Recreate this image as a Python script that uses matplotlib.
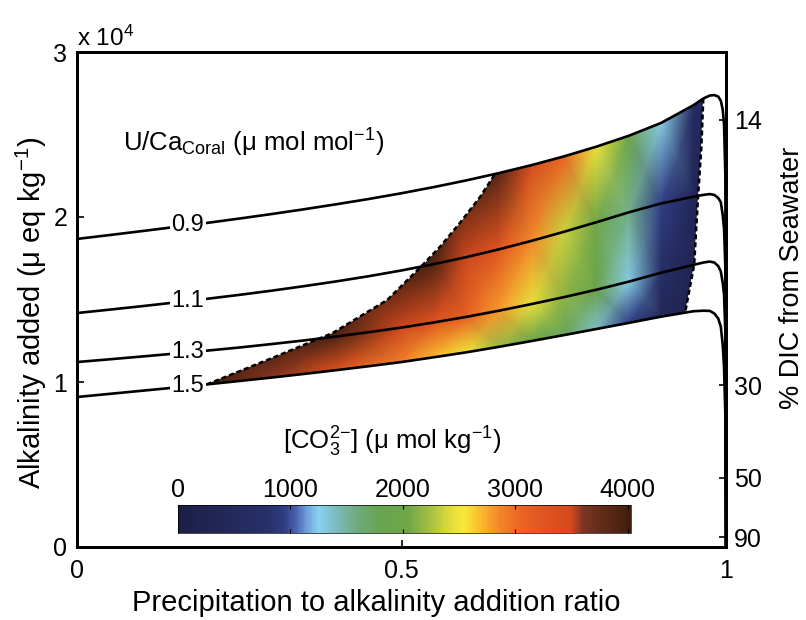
import numpy as np
import matplotlib
matplotlib.use("Agg")
import matplotlib.pyplot as plt
from matplotlib.colors import LinearSegmentedColormap
from matplotlib.patches import PathPatch
from matplotlib.path import Path

plt.rcParams['font.family'] = ['Liberation Sans', 'DejaVu Sans']
plt.rcParams['mathtext.fontset'] = 'custom'
plt.rcParams['mathtext.rm'] = 'Liberation Sans'
plt.rcParams['mathtext.it'] = 'Liberation Sans:italic'
plt.rcParams['mathtext.bf'] = 'Liberation Sans:bold'

# Precipitation to alkalinity addition ratio, sampled along each U/Ca curve
ratio = [0.0, 0.05, 0.1, 0.15, 0.2, 0.25, 0.3, 0.35, 0.4, 0.45, 0.5, 0.55, 0.6,
         0.65, 0.7, 0.75, 0.8, 0.85, 0.9, 0.95,
         0.965, 0.975, 0.982, 0.988, 0.992, 0.995, 0.997, 0.999, 1.0]

# Alkalinity added (ueq/kg) for each coral U/Ca value
alk_09 = [18670, 18905, 19145, 19390, 19640, 19905, 20180, 20470, 20775, 21095,
          21440, 21815, 22220, 22660, 23140, 23670, 24260, 24920, 25700, 26780,
          27180, 27360, 27390, 27300, 27050, 26500, 25600, 22500, 0]
alk_11 = [14180, 14385, 14595, 14815, 15040, 15280, 15535, 15810, 16100, 16415,
          16760, 17145, 17570, 18040, 18550, 19100, 19680, 20280, 20820, 21230,
          21340, 21390, 21340, 21150, 20900, 20100, 19300, 17000, 0]
alk_13 = [11210, 11375, 11545, 11720, 11900, 12090, 12300, 12520, 12760, 13020,
          13300, 13610, 13950, 14320, 14720, 15140, 15590, 16080, 16620, 17100,
          17240, 17300, 17240, 17030, 16700, 16000, 15300, 13000, 0]
alk_15 = [9090, 9280, 9470, 9660, 9855, 10060, 10270, 10490, 10720, 10960,
          11210, 11500, 11800, 12130, 12480, 12840, 13210, 13580, 13960, 14290,
          14320, 14310, 14150, 13850, 13350, 12250, 10900, 8000, 0]
uca_labels = ['0.9', '1.1', '1.3', '1.5']

# Dashed limits of the feasible region
left_ratio = [0.200, 0.293, 0.394, 0.478, 0.528, 0.559, 0.590, 0.621, 0.644]
left_alk = [9855, 11330, 12970, 14970, 16910, 18180, 19640, 21210, 22600]
right_ratio = [0.965, 0.962, 0.957, 0.951, 0.937]
right_alk = [27180, 24200, 21290, 17130, 14200]

# Carbonate ion concentration (umol/kg) along each curve
field_ratio = [0.20, 0.30, 0.40, 0.50, 0.55, 0.60, 0.65, 0.70, 0.75, 0.80,
               0.85, 0.90, 0.95, 0.97]
co3_15 = [4000, 3600, 3350, 2900, 2700, 2500, 2200, 1950, 1750, 1400, 950, 500, 200, 100]
co3_13 = [4030, 4030, 3900, 3500, 3300, 3100, 2800, 2450, 2150, 1850, 1300, 700, 300, 200]
co3_11 = [4030, 4030, 4030, 4030, 3900, 3500, 3250, 2850, 2350, 2000, 1550, 950, 400, 300]
co3_09 = [4030, 4030, 4030, 4030, 4030, 4030, 3850, 3450, 3050, 2450, 1950, 1300, 600, 400]
co3_max = 4030
co3_ticks = [0, 1000, 2000, 3000, 4000]

# Right axis: % DIC from seawater
dic_pos = [25900, 9800, 4200, 600]
dic_labels = ['14', '30', '50', '90']

# colour anchors (umol/kg, colour)
cmap_stops = [(0, '#1c1f45'), (800, '#28306a'), (950, '#313e85'), (1050, '#4d62b5'),
              (1150, '#6fa3dd'), (1250, '#8ad0f0'), (1400, '#7cbcc0'), (1600, '#6eaa78'),
              (1800, '#68a450'), (2050, '#70a648'), (2250, '#a8c040'), (2450, '#e8e03a'),
              (2550, '#f8e838'), (2700, '#f9b830'), (2850, '#f48a2a'), (3050, '#ea6424'),
              (3300, '#df5220'), (3500, '#d24a1e'), (3620, '#7a3422'), (4030, '#401d0e')]
cmap = LinearSegmentedColormap.from_list(
    'co3', [(v / co3_max, c) for v, c in cmap_stops])

W, H = 806, 620
fig = plt.figure(figsize=(W / 100, H / 100), dpi=100)
ax = fig.add_axes([77 / W, 1 - 547 / H, 649 / W, 495 / H])

r = np.array(ratio)
a09, a11, a13, a15 = (np.array(a) for a in (alk_09, alk_11, alk_13, alk_15))

# colour field between the 1.5 and 0.9 curves
fr = np.array(field_ratio)
X = np.tile(fr, (4, 1))
Y = np.vstack([np.interp(fr, r, a) for a in (a15, a13, a11, a09)])
C = np.vstack([co3_15, co3_13, co3_11, co3_09])
mesh = ax.pcolormesh(X, Y, C, shading='gouraud', cmap=cmap, vmin=0, vmax=co3_max,
                     zorder=2, rasterized=True)

top = (r > left_ratio[-1]) & (r < right_ratio[0])
bot = (r > left_ratio[0]) & (r < right_ratio[-1])
poly_x = np.concatenate([left_ratio, r[top], right_ratio, r[bot][::-1]])
poly_y = np.concatenate([left_alk, a09[top], right_alk, a15[bot][::-1]])
clip = PathPatch(Path(np.column_stack([poly_x, poly_y])), transform=ax.transData,
                 facecolor='none', edgecolor='none')
ax.add_patch(clip)
mesh.set_clip_path(clip)

ax.plot(left_ratio, left_alk, color='black', lw=1.8, dashes=(2, 1.2), zorder=3)
ax.plot(right_ratio, right_alk, color='black', lw=1.8, dashes=(2, 1.2), zorder=3)

lab_x = 0.171
for a, lab in zip((a09, a11, a13, a15), uca_labels):
    ax.plot(r, a, color='black', lw=1.9, zorder=3, solid_capstyle='butt')
    ax.text(lab_x, np.interp(lab_x, r, a), lab, fontsize=17, ha='center', va='center',
            zorder=4, bbox=dict(facecolor='white', edgecolor='none', pad=1.2))

ax.set_xlim(0, 1)
ax.set_ylim(0, 30000)
ax.set_xticks([0, 0.5, 1])
ax.set_xticklabels(['0', '0.5', '1'])
ax.set_yticks([0, 10000, 20000, 30000])
ax.set_yticklabels(['0', '1', '2', '3'])
ax.tick_params(direction='in', length=5, width=1.2, labelsize=18, right=False, top=False)
ax.tick_params(axis='x', pad=9)
ax.tick_params(axis='y', pad=7)
for s in ax.spines.values():
    s.set_linewidth(2)

ax2 = ax.twinx()
ax2.set_ylim(0, 30000)
ax2.set_yticks(dic_pos)
ax2.set_yticklabels(dic_labels)
ax2.tick_params(direction='in', length=5, width=1.2, labelsize=18, pad=6)
for s in ax2.spines.values():
    s.set_linewidth(2)

# colour bar inside the axes
cax = fig.add_axes([178 / W, 1 - 533 / H, 453 / W, 28 / H])
cb = fig.colorbar(mesh, cax=cax, orientation='horizontal', ticks=co3_ticks)
cb.outline.set_linewidth(0.5)
cax.tick_params(direction='in', top=True, bottom=True, labeltop=True, labelbottom=False,
                length=3, width=0.8, labelsize=18, pad=2)

# text
fig.text(77 / W, 1 - 46 / H, r'x 10$^{4}$', fontsize=17.5, ha='left', va='baseline')
fig.text(123 / W, 1 - 152 / H, r'U/Ca$_{\mathrm{Coral}}$ (μ mol mol$^{-1}$)',
         fontsize=18.5, ha='left', va='baseline')
fig.text(283 / W, 1 - 450 / H, r'[CO$_{3}^{2\mathrm{-}}$] (μ mol kg$^{-1}$)',
         fontsize=18.5, ha='left', va='baseline')
fig.text(376 / W, 1 - 603 / H, 'Precipitation to alkalinity addition ratio',
         fontsize=21, ha='center', va='center')
fig.text(31 / W, 1 - 313 / H, r'Alkalinity added (μ eq kg$^{-1}$)',
         fontsize=21, ha='center', va='center', rotation=90)
fig.text(792 / W, 1 - 278 / H, '% DIC from Seawater',
         fontsize=19.5, ha='center', va='center', rotation=90)

fig.savefig('out.png', dpi=100)
